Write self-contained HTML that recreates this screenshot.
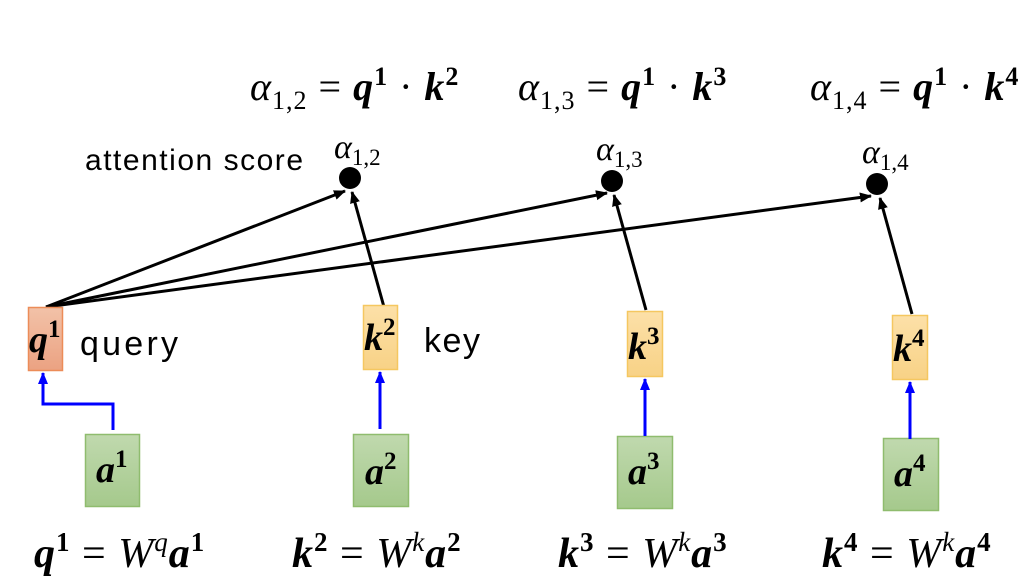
<!DOCTYPE html>
<html><head><meta charset="utf-8"><style>
html,body{margin:0;padding:0;background:#fff;width:1024px;height:588px;overflow:hidden}
svg{display:block}
.m{font-family:"Liberation Serif",serif;}
.b{font-weight:bold;font-style:italic}
.i{font-style:italic}
.s{font-family:"Liberation Sans",sans-serif}
</style></head><body>
<svg width="1024" height="588" viewBox="0 0 1024 588" xmlns="http://www.w3.org/2000/svg">
<defs>
<linearGradient id="gq" x1="0" y1="0" x2="0" y2="1"><stop offset="0" stop-color="#f2c2a8"/><stop offset="1" stop-color="#eba282"/></linearGradient>
<linearGradient id="gk" x1="0" y1="0" x2="0" y2="1"><stop offset="0" stop-color="#fce0a8"/><stop offset="1" stop-color="#f8d286"/></linearGradient>
<linearGradient id="ga" x1="0" y1="0" x2="0" y2="1"><stop offset="0" stop-color="#c0d9ae"/><stop offset="1" stop-color="#a5c98c"/></linearGradient>
<marker id="ab" markerWidth="14" markerHeight="12" refX="11" refY="6" orient="auto" markerUnits="userSpaceOnUse"><path d="M0,1 L12,6 L0,11 z" fill="#000"/></marker>
<marker id="au" markerWidth="14" markerHeight="12" refX="11" refY="6" orient="auto" markerUnits="userSpaceOnUse"><path d="M0,1 L12,6 L0,11 z" fill="#0000ff"/></marker>
</defs>

<!-- top formulas -->
<g class="m" font-size="40" fill="#000">
<text x="250" y="100" letter-spacing="1"><tspan class="i">α</tspan><tspan font-size="26" dy="9">1,2</tspan><tspan dy="-9"> = </tspan><tspan class="b">q</tspan><tspan font-size="26" dy="-15" font-weight="bold">1</tspan><tspan dy="15"> · </tspan><tspan class="b">k</tspan><tspan font-size="26" dy="-15" font-weight="bold">2</tspan></text>
<text x="518" y="100" letter-spacing="1"><tspan class="i">α</tspan><tspan font-size="26" dy="9">1,3</tspan><tspan dy="-9"> = </tspan><tspan class="b">q</tspan><tspan font-size="26" dy="-15" font-weight="bold">1</tspan><tspan dy="15"> · </tspan><tspan class="b">k</tspan><tspan font-size="26" dy="-15" font-weight="bold">3</tspan></text>
<text x="810" y="100" letter-spacing="1"><tspan class="i">α</tspan><tspan font-size="26" dy="9">1,4</tspan><tspan dy="-9"> = </tspan><tspan class="b">q</tspan><tspan font-size="26" dy="-15" font-weight="bold">1</tspan><tspan dy="15"> · </tspan><tspan class="b">k</tspan><tspan font-size="26" dy="-15" font-weight="bold">4</tspan></text>
</g>

<text x="85" y="170" class="s" font-size="30" textLength="218">attention score</text>
<g class="m" font-size="34">
<text x="334" y="158"><tspan class="i">α</tspan><tspan font-size="23" dy="7">1,2</tspan></text>
<text x="596" y="160"><tspan class="i">α</tspan><tspan font-size="23" dy="7">1,3</tspan></text>
<text x="862" y="163"><tspan class="i">α</tspan><tspan font-size="23" dy="7">1,4</tspan></text>
</g>

<circle cx="350" cy="178" r="11" fill="#000"/>
<circle cx="612" cy="181" r="11" fill="#000"/>
<circle cx="877" cy="184" r="11" fill="#000"/>

<g stroke="#000" stroke-width="3" fill="none">
<line x1="46" y1="307" x2="345" y2="191" marker-end="url(#ab)"/>
<line x1="46" y1="307" x2="607" y2="193" marker-end="url(#ab)"/>
<line x1="46" y1="307" x2="871" y2="196" marker-end="url(#ab)"/>
<line x1="384" y1="307" x2="352" y2="192" marker-end="url(#ab)"/>
<line x1="646" y1="310" x2="614" y2="195" marker-end="url(#ab)"/>
<line x1="912" y1="314" x2="880" y2="198" marker-end="url(#ab)"/>
</g>

<!-- boxes -->
<rect x="28.5" y="307.5" width="34" height="63" fill="url(#gq)" stroke="#ec8c58" stroke-width="1.5"/>
<rect x="363.5" y="305.5" width="34" height="64" fill="url(#gk)" stroke="#f5c760" stroke-width="1.5"/>
<rect x="627.5" y="311.5" width="35" height="65" fill="url(#gk)" stroke="#f5c760" stroke-width="1.5"/>
<rect x="892.5" y="315.5" width="35" height="64" fill="url(#gk)" stroke="#f5c760" stroke-width="1.5"/>
<rect x="85.5" y="434.5" width="54" height="72" fill="url(#ga)" stroke="#8fbc6e" stroke-width="1.5"/>
<rect x="353.5" y="434.5" width="55" height="72" fill="url(#ga)" stroke="#8fbc6e" stroke-width="1.5"/>
<rect x="617.5" y="436.5" width="55" height="72" fill="url(#ga)" stroke="#8fbc6e" stroke-width="1.5"/>
<rect x="883.5" y="438.5" width="55" height="72" fill="url(#ga)" stroke="#8fbc6e" stroke-width="1.5"/>

<!-- blue arrows -->
<g stroke="#0000ff" stroke-width="3" fill="none">
<polyline points="113,430 113,404 43,404 43,373" marker-end="url(#au)"/>
<line x1="380" y1="429" x2="380" y2="372" marker-end="url(#au)"/>
<line x1="645" y1="436" x2="645" y2="379" marker-end="url(#au)"/>
<line x1="910" y1="439" x2="910" y2="382" marker-end="url(#au)"/>
</g>

<!-- box labels -->
<g class="m" font-size="38">
<text x="29" y="352"><tspan class="b">q</tspan><tspan font-size="25" dy="-15" font-weight="bold">1</tspan></text>
<text x="364" y="350"><tspan class="b">k</tspan><tspan font-size="25" dy="-15" font-weight="bold">2</tspan></text>
<text x="628" y="359"><tspan class="b">k</tspan><tspan font-size="25" dy="-15" font-weight="bold">3</tspan></text>
<text x="893" y="361"><tspan class="b">k</tspan><tspan font-size="25" dy="-15" font-weight="bold">4</tspan></text>
<text x="96" y="482"><tspan class="b">a</tspan><tspan font-size="25" dy="-15" font-weight="bold">1</tspan></text>
<text x="365" y="484"><tspan class="b">a</tspan><tspan font-size="25" dy="-15" font-weight="bold">2</tspan></text>
<text x="628" y="484"><tspan class="b">a</tspan><tspan font-size="25" dy="-15" font-weight="bold">3</tspan></text>
<text x="894" y="486"><tspan class="b">a</tspan><tspan font-size="25" dy="-15" font-weight="bold">4</tspan></text>
</g>
<text x="80" y="355" class="s" font-size="34" textLength="98">query</text>
<text x="424" y="352" class="s" font-size="34" textLength="56">key</text>

<!-- bottom formulas -->
<g class="m" font-size="42" letter-spacing="1">
<text x="34" y="567"><tspan class="b">q</tspan><tspan font-size="27" dy="-16" font-weight="bold">1</tspan><tspan dy="16"> = </tspan><tspan class="i">W</tspan><tspan class="i" font-size="27" dy="-16">q</tspan><tspan class="b" dy="16">a</tspan><tspan font-size="27" dy="-16" font-weight="bold">1</tspan></text>
<text x="292" y="567"><tspan class="b">k</tspan><tspan font-size="27" dy="-16" font-weight="bold">2</tspan><tspan dy="16"> = </tspan><tspan class="i">W</tspan><tspan class="i" font-size="27" dy="-16">k</tspan><tspan class="b" dy="16">a</tspan><tspan font-size="27" dy="-16" font-weight="bold">2</tspan></text>
<text x="558" y="567"><tspan class="b">k</tspan><tspan font-size="27" dy="-16" font-weight="bold">3</tspan><tspan dy="16"> = </tspan><tspan class="i">W</tspan><tspan class="i" font-size="27" dy="-16">k</tspan><tspan class="b" dy="16">a</tspan><tspan font-size="27" dy="-16" font-weight="bold">3</tspan></text>
<text x="822" y="567"><tspan class="b">k</tspan><tspan font-size="27" dy="-16" font-weight="bold">4</tspan><tspan dy="16"> = </tspan><tspan class="i">W</tspan><tspan class="i" font-size="27" dy="-16">k</tspan><tspan class="b" dy="16">a</tspan><tspan font-size="27" dy="-16" font-weight="bold">4</tspan></text>
</g>
</svg>
</body></html>
